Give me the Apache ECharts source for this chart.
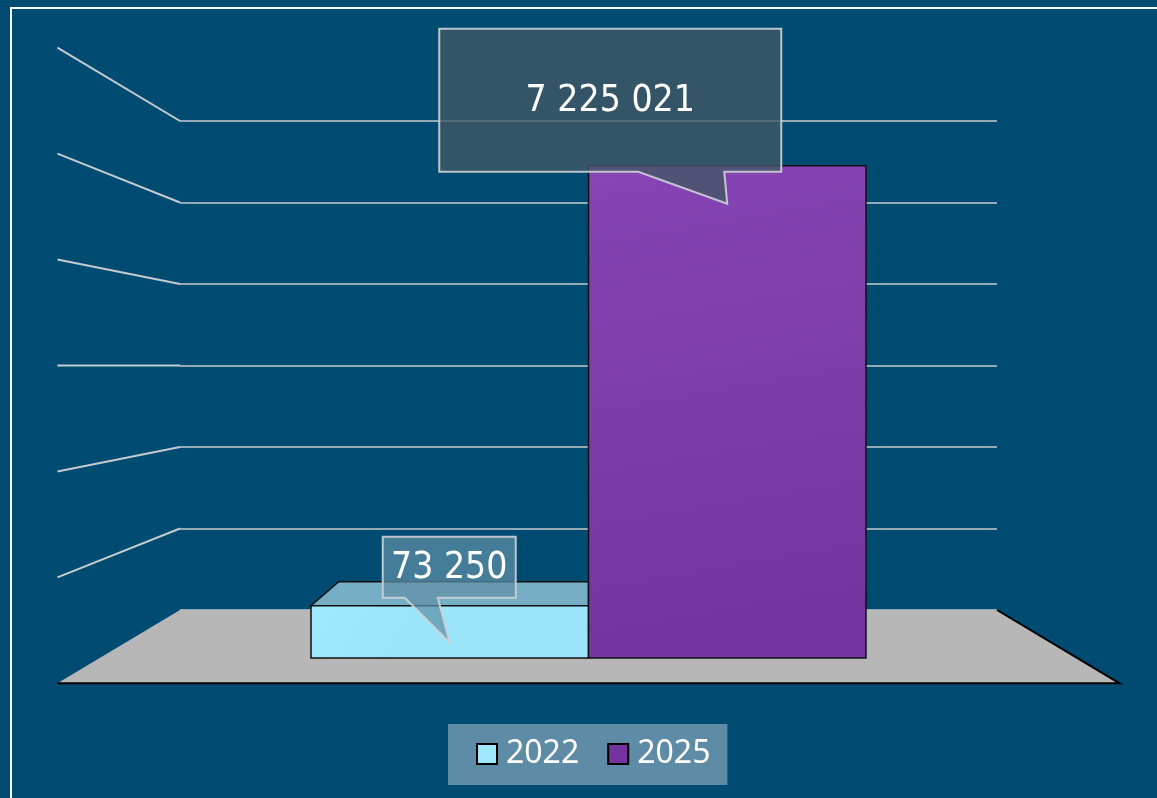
<!DOCTYPE html>
<html>
<head>
<meta charset="utf-8">
<title>2022 / 2025</title>
<script src="https://cdn.jsdelivr.net/npm/echarts@6/dist/echarts.min.js"></script>
<style>
  html, body { margin: 0; padding: 0; background: #004b72; }
  #chart { width: 1157px; height: 798px; }
</style>
</head>
<body>
<div id="chart"></div>
<script>
// ========== 数据 ==========
const years = ["2022", "2025"];
const values = [73250, 7225021];
const valueLabels = ["73 250", "7 225 021"];
const gridRows = 6; // 背墙网格线数

// ========== 样式 / 布局 ==========
const bgColor = "#004b72";
const lineColor = "#c4cbd1";
const seriesColors = ["#a0e8fc", "#7533a0"];
const frontGradients = [
  ["#a0eafe", "#9be5fa"],
  ["#8644b4", "#73359f"],
];
const topFaceColors = ["#76aec5", "#6a2e94"];
const calloutFills = ["rgba(96,144,167,0.72)", "rgba(66,88,101,0.78)"];
// 标注框: 相对箭头尖 [左, 上, 右, 下], 尾巴底边 [左, 右], 尖在柱顶下方 tipDy
const calloutBoxes = [
  { tipDy: 37, box: [-67, -106, 66, -45], tail: [-45, -12] },
  { tipDy: 38, box: [-288, -175, 54, -32], tail: [-89, -3] },
];

const wall = { left: 180, right: 997, top: 121, bottom: 610 };
const vp = [(wall.left + wall.right) / 2, (wall.top + wall.bottom) / 2]; // 透视中心
const sideScale = 1.3; // 侧墙/地板前沿
const topDepth = 0.9; // 柱顶面后沿
const yFloor = -775000;
const yCeil = 8000000;

const chart = echarts.init(document.getElementById("chart"));

function project(x, y, k) {
  return [vp[0] + (x - vp[0]) * k, vp[1] + (y - vp[1]) * k];
}

// ========== 3D 柱 + 标注 ==========
function renderBar(params, api) {
  const i = params.seriesIndex;
  const top = api.coord([api.value(0), api.value(1)]);
  const base = api.coord([api.value(0), yFloor]);
  const w = api.size([1, 0])[0];
  const x0 = top[0] - w / 2;
  const x1 = top[0] + w / 2;
  const children = [];

  if (top[1] > vp[1]) {
    children.push({
      type: "polygon",
      shape: {
        points: [[x0, top[1]], [x1, top[1]], project(x1, top[1], topDepth), project(x0, top[1], topDepth)],
      },
      style: { fill: topFaceColors[i], stroke: "#111", lineWidth: 1.5 },
    });
  }
  children.push({
    type: "rect",
    shape: { x: x0, y: top[1], width: w, height: base[1] - top[1] },
    style: {
      fill: new echarts.graphic.LinearGradient(0, 0, 0.3, 1, [
        { offset: 0, color: frontGradients[i][0] },
        { offset: 1, color: frontGradients[i][1] },
      ]),
      stroke: "#111",
      lineWidth: 1.5,
    },
  });

  const c = calloutBoxes[i];
  const tx = top[0];
  const ty = top[1] + c.tipDy;
  const bx0 = tx + c.box[0], by0 = ty + c.box[1], bx1 = tx + c.box[2], by1 = ty + c.box[3];
  children.push({
    type: "polygon",
    shape: {
      points: [
        [bx0, by0], [bx1, by0], [bx1, by1],
        [tx + c.tail[1], by1], [tx, ty], [tx + c.tail[0], by1],
        [bx0, by1],
      ],
    },
    style: { fill: calloutFills[i], stroke: "rgba(205,210,214,0.9)", lineWidth: 2 },
  });
  children.push({
    type: "text",
    style: {
      text: valueLabels[i],
      x: (bx0 + bx1) / 2,
      y: (by0 + by1) / 2 + 1,
      align: "center",
      verticalAlign: "middle",
      fill: "#fff",
      fontSize: 37,
      fontFamily: '"DejaVu Sans Condensed", "Noto Sans", sans-serif',
    },
  });
  return { type: "group", children };
}

chart.setOption({
  backgroundColor: bgColor,
  animation: false,
  grid: [
    { left: 311, right: 291, top: 118, bottom: 140 },
    { left: wall.left, right: 1157 - wall.right, top: wall.top, bottom: 798 - wall.bottom },
  ],
  xAxis: [
    { type: "category", data: years, gridIndex: 0, show: false },
    { type: "category", data: [""], gridIndex: 1, show: false },
  ],
  yAxis: [
    { type: "value", gridIndex: 0, min: yFloor, max: yCeil, show: false },
    {
      type: "value",
      gridIndex: 1,
      min: 0,
      max: gridRows,
      interval: 1,
      axisLine: { show: false },
      axisTick: { show: false },
      axisLabel: { show: false },
      splitLine: { show: true, lineStyle: { color: lineColor, width: 1.5 } },
    },
  ],
  legend: {
    left: 448,
    top: 724,
    padding: [10, 17, 11, 28],
    backgroundColor: "#5e8ba5",
    icon: "rect",
    itemWidth: 20,
    itemHeight: 20,
    itemGap: 28,
    itemStyle: { borderColor: "#000", borderWidth: 2 },
    textStyle: {
      color: "#fff",
      fontSize: 32,
      lineHeight: 40,
      fontFamily: '"Noto Sans", sans-serif',
      padding: [0, 0, 0, 4],
    },
    data: years,
  },
  series: years.map((y, i) => ({
    name: y,
    type: "custom",
    xAxisIndex: 0,
    yAxisIndex: 0,
    clip: false,
    itemStyle: { color: seriesColors[i] },
    encode: { x: 0, y: 1 },
    data: [[i, values[i]]],
    renderItem: renderBar,
  })),
});

// ========== 地板 / 侧墙 / 边框 ==========
const floorPts = [
  [wall.left, wall.bottom],
  [wall.right, wall.bottom],
  project(wall.right, wall.bottom, sideScale),
  project(wall.left, wall.bottom, sideScale),
];
const decor = [
  { type: "polygon", z: 1, shape: { points: floorPts }, style: { fill: "#b7b7b7" } },
  {
    type: "polyline",
    z: 1,
    shape: { points: [floorPts[3], floorPts[2], floorPts[1]] },
    style: { stroke: "#000", lineWidth: 2, fill: null },
  },
];
for (let r = 1; r <= gridRows; r++) {
  const y = chart.convertToPixel({ yAxisIndex: 1 }, r);
  const end = project(wall.left, y, sideScale);
  decor.push({
    type: "line",
    z: 1,
    shape: { x1: wall.left, y1: y, x2: end[0], y2: end[1] },
    style: { stroke: lineColor, lineWidth: 2 },
  });
}
decor.push({
  type: "rect",
  z: 100,
  shape: { x: 11, y: 8, width: 1400, height: 1000 },
  style: { fill: null, stroke: "#fff", lineWidth: 2 },
});
chart.setOption({ graphic: decor });

window.addEventListener("resize", () => chart.resize());
</script>
</body>
</html>
